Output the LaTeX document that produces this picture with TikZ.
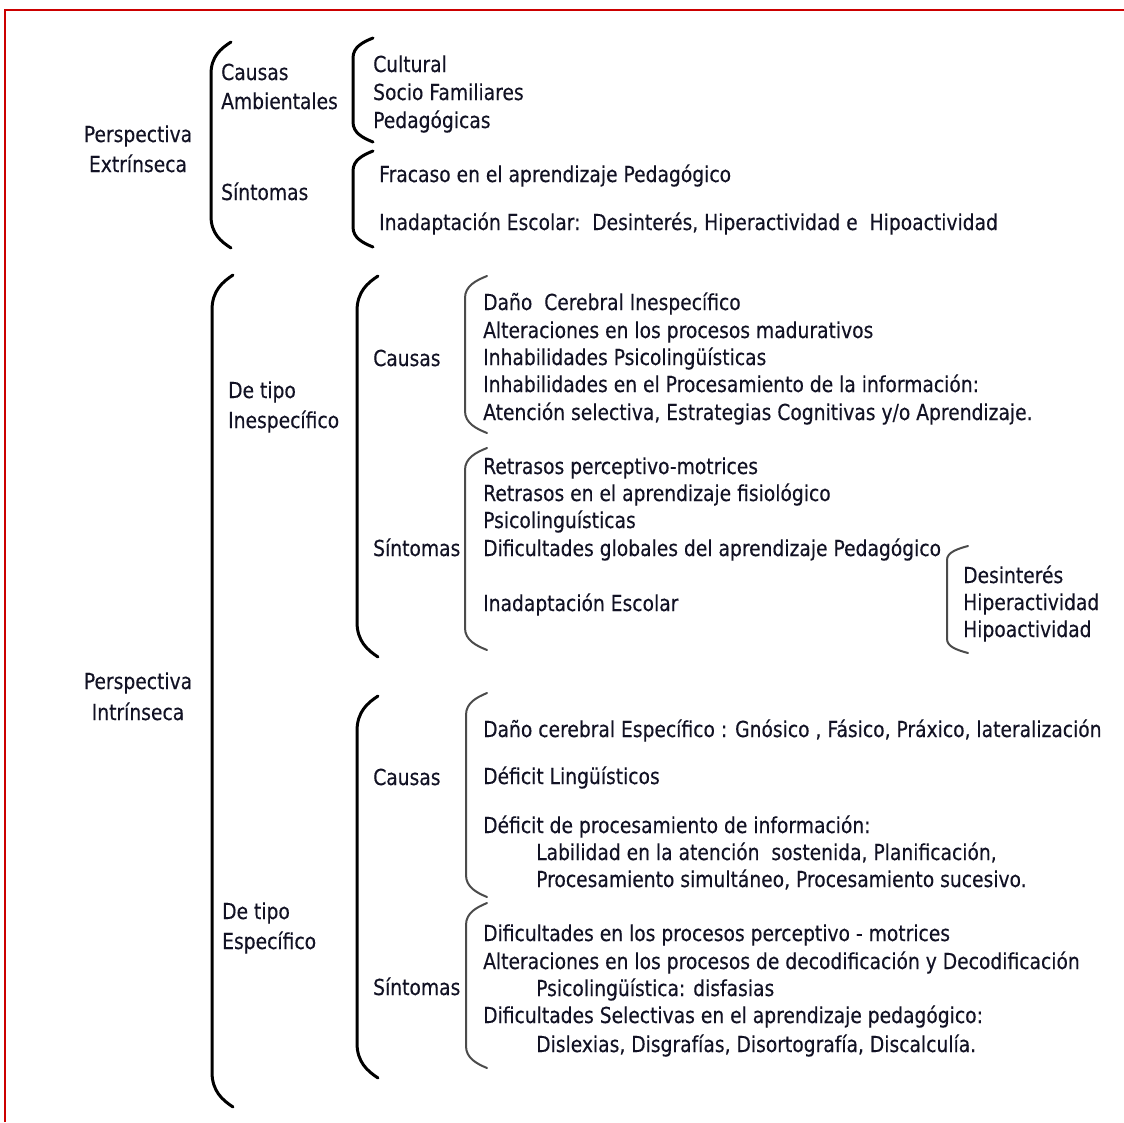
\documentclass[tikz,border=0pt]{standalone}
\usepackage{fontspec}
\setmainfont{DejaVu Sans}[FakeStretch=0.85,FakeBold=0.3]
\definecolor{textc}{RGB}{18,18,36}
\definecolor{brgray}{RGB}{75,75,75}
\definecolor{frame}{RGB}{204,0,0}
\newcommand{\dfont}{\fontsize{22}{26}\selectfont}
\newcommand{\curlyb}[6]{%
  \draw[#1] (#3,#4) .. controls ({#2+0.5*(#3-#2)},{#4+0.2*#6}) and (#2,{#4+0.45*#6}) .. (#2,{#4+#6})
    -- (#2,{#5-#6}) .. controls (#2,{#5-0.45*#6}) and ({#2+0.5*(#3-#2)},{#5-0.2*#6}) .. (#3,#5);}
\begin{document}
\begin{tikzpicture}[x=1pt,y=-1pt,
  txt/.style={anchor=base west,inner sep=0pt,font=\dfont,text=textc},
  ctxt/.style={txt,anchor=base},
  thickbr/.style={line width=3pt,draw=black,line cap=round},
  thinbr/.style={line width=2pt,draw=brgray,line cap=round}]
\useasboundingbox[fill=white] (0,0) rectangle (1124,1122);
% red frame
\draw[frame,line width=2pt] (5,1122) -- (5,10) -- (1124,10);

% ---------- Perspectiva Extrinseca ----------
\node[ctxt] (pe1) at (138,142) {Perspectiva};
\node[ctxt] (pe2) at (138,172) {Extrínseca};
\curlyb{thickbr}{211}{231}{42}{248}{32}
\node[txt] (ca1) at (221,80) {Causas};
\node[txt] (ca2) at (221,109) {Ambientales};
\node[txt] (si1) at (221,200) {Síntomas};
\curlyb{thickbr}{353}{373}{38}{142}{20}
\node[txt] (cu) at (373,72) {Cultural};
\node[txt] (sf) at (373,100) {Socio Familiares};
\node[txt] (pg) at (373,128) {Pedagógicas};
\curlyb{thickbr}{353}{373}{151}{247}{20}
\node[txt] (fr) at (379,182) {Fracaso en el aprendizaje Pedagógico};
\node[txt] (ie) at (379,230) {Inadaptación Escolar:\ \ Desinterés, Hiperactividad e\ \ Hipoactividad};

% ---------- Perspectiva Intrinseca ----------
\node[ctxt] (pi1) at (138,689) {Perspectiva};
\node[ctxt] (pi2) at (138,720) {Intrínseca};
\curlyb{thickbr}{212}{233}{275}{1107}{35}

% De tipo Inespecifico
\node[txt] (dt1) at (228,398) {De tipo};
\node[txt] (dt2) at (228,428) {Inespecífico};
\curlyb{thickbr}{357}{378}{276}{657}{35}
\node[txt] (c2) at (373,366) {Causas};
\node[txt] (s2) at (373,556) {Síntomas};
\curlyb{thinbr}{465}{487}{276}{433}{22}
\node[txt] (a1) at (483,310) {Daño\ \ Cerebral Inespecífico};
\node[txt] (a2) at (483,338) {Alteraciones en los procesos madurativos};
\node[txt] (a3) at (483,365) {Inhabilidades Psicolingüísticas};
\node[txt] (a4) at (483,392) {Inhabilidades en el Procesamiento de la información:};
\node[txt] (a5) at (483,420) {Atención selectiva, Estrategias Cognitivas y/o Aprendizaje.};
\curlyb{thinbr}{465}{487}{448}{650}{22}
\node[txt] (b1) at (483,474) {Retrasos perceptivo-motrices};
\node[txt] (b2) at (483,501) {Retrasos en el aprendizaje fisiológico};
\node[txt] (b3) at (483,528) {Psicolinguísticas};
\node[txt] (b4) at (483,556) {Dificultades globales del aprendizaje Pedagógico};
\node[txt] (b5) at (483,611) {Inadaptación Escolar};
\curlyb{thinbr}{947}{968}{546}{653}{14}
\node[txt] (h1) at (963,583) {Desinterés};
\node[txt] (h2) at (963,610) {Hiperactividad};
\node[txt] (h3) at (963,637) {Hipoactividad};

% De tipo Especifico
\node[txt] (de1) at (222,919) {De tipo};
\node[txt] (de2) at (222,949) {Específico};
\curlyb{thickbr}{357}{378}{696}{1078}{35}
\node[txt] (c3) at (373,785) {Causas};
\node[txt] (s3) at (373,995) {Síntomas};
\curlyb{thinbr}{466}{487}{693}{897}{22}
\node[txt] (d1) at (483,737) {Daño cerebral Específico : Gnósico , Fásico, Práxico, lateralización};
\node[txt] (d2) at (483,784) {Déficit Lingüísticos};
\node[txt] (d3) at (483,833) {Déficit de procesamiento de información:};
\node[txt] (d4) at (536,860) {Labilidad en la atención\ \ sostenida, Planificación,};
\node[txt] (d5) at (536,887) {Procesamiento simultáneo, Procesamiento sucesivo.};
\curlyb{thinbr}{466}{487}{903}{1068}{22}
\node[txt] (e1) at (483,941) {Dificultades en los procesos perceptivo - motrices};
\node[txt] (e2) at (483,969) {Alteraciones en los procesos de decodificación y Decodificación};
\node[txt] (e3) at (536,996) {Psicolingüística: disfasias};
\node[txt] (e4) at (483,1023) {Dificultades Selectivas en el aprendizaje pedagógico:};
\node[txt] (e5) at (536,1052) {Dislexias, Disgrafías, Disortografía, Discalculía.};
\end{tikzpicture}
\end{document}
